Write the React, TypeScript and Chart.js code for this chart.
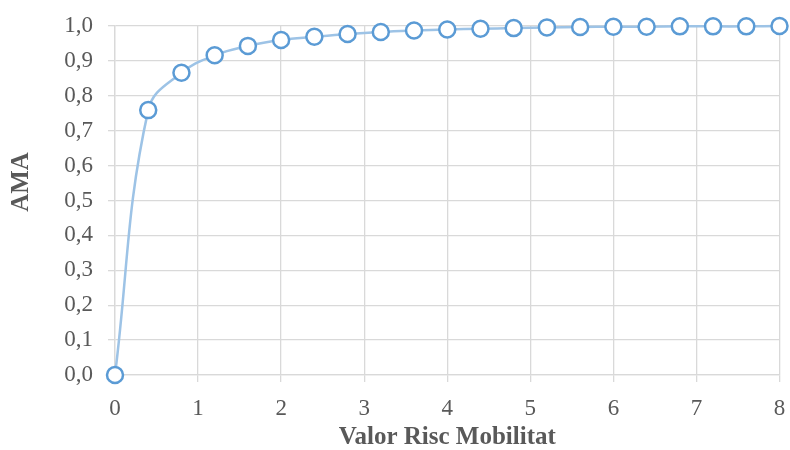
import React, { useEffect, useRef } from "react";
import { Chart, registerables } from "chart.js";

Chart.register(...registerables);

const xValues = [0, 0.4, 0.8, 1.2, 1.6, 2.0, 2.4, 2.8, 3.2, 3.6, 4.0, 4.4, 4.8, 5.2, 5.6, 6.0, 6.4, 6.8, 7.2, 7.6, 8.0];
const amaValues = [0, 0.759, 0.866, 0.916, 0.943, 0.96, 0.969, 0.977, 0.983, 0.987, 0.99, 0.992, 0.994, 0.996, 0.997, 0.998, 0.998, 0.999, 0.999, 0.999, 1.0];
const xTitle = "Valor Risc Mobilitat";
const yTitle = "AMA";

const FONT = "'Liberation Serif', 'DejaVu Serif', serif";

const yTitlePlugin = {
  id: "yTitlePlugin",
  afterDraw(chart: any) {
    const ctx = chart.ctx;
    ctx.save();
    ctx.translate(22, 182);
    ctx.rotate(-Math.PI / 2);
    ctx.font = `bold 25px ${FONT}`;
    ctx.fillStyle = "#595959";
    ctx.textAlign = "center";
    ctx.textBaseline = "middle";
    ctx.fillText(yTitle, 0, 0);
    ctx.restore();
  },
};

export default function App() {
  const ref = useRef<HTMLCanvasElement | null>(null);
  useEffect(() => {
    if (!ref.current) return;
    const chart = new Chart(ref.current, {
      type: "line",
      data: {
        datasets: [
          {
            data: xValues.map((x, i) => ({ x, y: amaValues[i] })),
            borderColor: "#9dc3e6",
            borderWidth: 2.5,
            tension: 0.4,
            pointRadius: 8,
            pointBorderWidth: 2.5,
            pointBackgroundColor: "#ffffff",
            pointBorderColor: "#5b9bd5",
            clip: false,
          },
        ],
      },
      options: {
        animation: false,
        responsive: false,
        maintainAspectRatio: false,
        layout: { padding: { top: 26, right: 10, left: 0, bottom: 0 } },
        plugins: { legend: { display: false }, tooltip: { enabled: false } },
        scales: {
          x: {
            type: "linear",
            min: 0,
            max: 8,
            afterFit: (s: any) => { s.height = 75; s.paddingRight = 0; s.paddingLeft = 0; },
            ticks: {
              stepSize: 1,
              color: "#595959",
              padding: 13,
              font: { family: FONT, size: 23 },
            },
            grid: { color: "#d9d9d9", lineWidth: 1.3, tickLength: 7 },
            border: { color: "#d9d9d9", width: 1.3 },
            title: {
              display: true,
              text: xTitle,
              color: "#595959",
              font: { family: FONT, size: 25, weight: "bold" },
              padding: { top: 0, bottom: -3 },
            },
          },
          y: {
            min: 0,
            max: 1,
            afterFit: (s: any) => { s.width = 115; s.paddingTop = 0; s.paddingBottom = 0; },
            ticks: {
              stepSize: 0.1,
              color: "#595959",
              padding: 15,
              font: { family: FONT, size: 23 },
              callback: (v: any) => Number(v).toFixed(1).replace(".", ","),
            },
            grid: { color: "#d9d9d9", lineWidth: 1.3, tickLength: 7 },
            border: { color: "#d9d9d9", width: 1.3 },
          },
        },
      },
      plugins: [yTitlePlugin],
    });
    return () => chart.destroy();
  }, []);
  return (
    <div style={{ position: "absolute", left: 0, top: 0, width: 790, height: 450, background: "#fff" }}>
      <canvas ref={ref} width={790} height={450} />
    </div>
  );
}
